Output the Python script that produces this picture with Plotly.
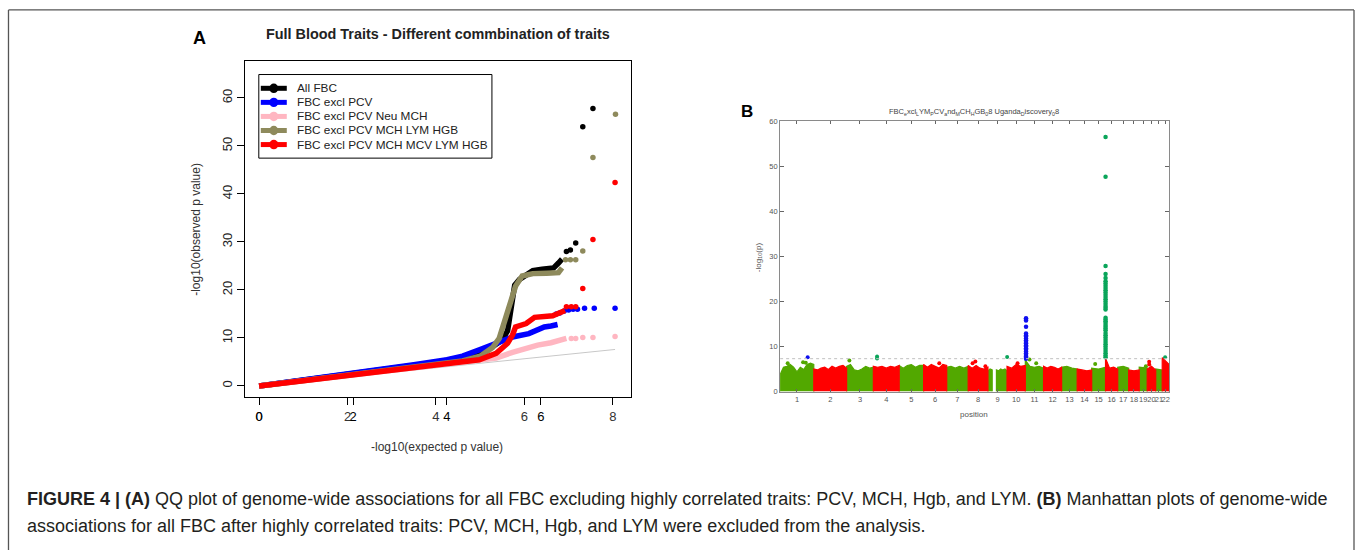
import plotly.graph_objects as go
from itertools import accumulate

W, H = 1357, 550


def X(px):
    return px / W


def Y(py):
    return 1 - py / H


# ---------------- Panel A : QQ plot data ----------------
qq_ref_x = [0, 8.05]
qq_ref_y = [0, 7.6]

black_x = [0, 1, 2, 3, 4, 4.6, 5.0, 5.3, 5.5, 5.62, 5.68, 5.73, 5.78, 5.89, 6.05, 6.19, 6.4, 6.66, 6.77, 6.85]
black_y = [0, 1.2, 2.4, 3.6, 4.9, 6.0, 7.0, 8.3, 9.6, 11.5, 15.0, 19.0, 21.0, 22.2, 23.2, 24.0, 24.3, 24.6, 25.6, 26.4]
black_tail_x = [6.95, 7.04, 7.16, 7.32, 7.55]
black_tail_y = [28.0, 28.3, 29.8, 54.0, 57.8]

blue_x = [0, 1, 2, 3, 3.5, 4.25, 4.6, 4.98, 5.36, 5.73, 6.1, 6.3, 6.45, 6.6, 6.75]
blue_y = [0, 1.2, 2.5, 3.8, 4.4, 5.45, 6.2, 7.5, 8.9, 10.2, 10.9, 11.6, 12.3, 12.5, 12.8]
blue_tail_x = [6.72, 6.8, 6.9, 7.0, 7.1, 7.2, 7.36, 7.58, 8.05]
blue_tail_y = [15.0, 15.2, 15.6, 15.8, 16.0, 16.0, 16.2, 16.2, 16.2]

pink_x = [0, 2, 4, 4.5, 5.0, 5.36, 5.73, 6.0, 6.3, 6.6, 6.8, 6.95]
pink_y = [0, 2.2, 4.3, 4.8, 5.3, 5.8, 7.0, 7.8, 8.5, 9.0, 9.5, 9.9]
pink_tail_x = [7.06, 7.16, 7.32, 7.55, 8.05]
pink_tail_y = [9.9, 9.9, 10.1, 10.1, 10.3]

olive_x = [0, 2, 4, 4.6, 5.0, 5.28, 5.43, 5.58, 5.73, 5.80, 5.95, 6.19, 6.5, 6.77, 6.85]
olive_y = [0, 2.2, 4.4, 5.2, 6.2, 8.0, 9.9, 14.0, 18.8, 20.8, 22.9, 23.4, 23.5, 23.6, 24.6]
olive_tail_x = [6.93, 7.04, 7.16, 7.32, 7.55, 8.06]
olive_tail_y = [26.3, 26.3, 26.3, 28.1, 47.6, 56.6]

red_x = [0, 1, 2, 3, 3.5, 4.23, 4.98, 5.36, 5.62, 5.73, 5.8, 6.04, 6.23, 6.64, 6.8, 6.92]
red_y = [0, 1.1, 2.2, 3.2, 3.8, 4.4, 5.45, 6.8, 8.9, 10.6, 12.3, 13.0, 14.3, 14.6, 15.2, 15.7]
red_tail_x = [6.95, 7.06, 7.16, 7.32, 7.55, 8.05]
red_tail_y = [16.5, 16.5, 16.5, 20.3, 30.5, 42.4]

qq_names = ["All FBC", "FBC excl PCV", "FBC excl PCV Neu MCH",
            "FBC excl PCV MCH LYM HGB", "FBC excl PCV MCH MCV LYM HGB"]
qq_colors = ["#000000", "#0000ff", "#ffb6c1", "#8e8a5c", "#ff0000"]
qq_x_ticks = [0, 2, 4, 6, 8]
qq_x_ticks_overlay = [0, 2, 4, 6]
qq_y_ticks = [0, 10, 20, 30, 40, 50, 60]

# ---------------- Panel B : Manhattan plot data ----------------
chrom_names = [str(i) for i in range(1, 23)]
chrom_len_mb = [249.25, 243.2, 198.0, 191.2, 180.9, 171.1, 159.1, 146.4, 141.2, 135.5, 135.0,
                133.9, 115.2, 107.3, 102.5, 90.4, 81.2, 78.1, 59.1, 63.0, 48.1, 51.3]
# upper edge of the dense band of SNPs along each chromosome (None = no SNPs)
band_tops = [
    [3.8, 5.4, 5.6, 6.0, 5.4, 4.4, 5.4, 4.9, 6.0, 6.3, 6.0],
    [5.0, 4.8, 5.2, 5.4, 4.9, 5.6, 5.2, 5.6, 5.8, 5.2],
    [5.6, 6.0, 4.8, 4.6, 5.0, 5.6, 5.2, 5.4],
    [5.6, 5.4, 5.6, 5.2, 5.6, 5.4, 5.8],
    [5.8, 5.2, 5.8, 6.0, 5.4, 5.8, 5.8],
    [6.0, 5.4, 6.0, 5.6, 5.2, 6.0, 5.8],
    [5.4, 5.6, 5.2, 5.6, 5.2, 5.6],
    [5.8, 5.2, 5.8, 5.2, 5.0, 5.4],
    [4.6, 5.0, 4.8, None, 4.8, 4.6, 5.0, 4.8, 5.0, 4.6],
    [5.6, 5.2, 6.0, 5.6, 5.8],
    [7.0, 5.6, 5.4, 5.6, 5.2],
    [5.6, 5.2, 5.6, 5.4, 5.0, 5.4],
    [5.4, 5.6, 5.2, 5.0],
    [5.0, 4.8, 4.6, 4.8],
    [5.2, 5.0, 5.4],
    [7.4, 5.2, 5.4, 5.0],
    [5.4, 5.6, 5.2],
    [4.8, 4.6, 4.8],
    [5.4, 5.2],
    [5.0, 5.6, 4.8],
    [5.0, 4.8],
    [7.5, 6.0],
]
band_colors = ["#52a800", "#ff0000"]

# isolated SNPs above the band
sig_chrom = [1, 1, 1, 1, 3, 4, 4, 6, 8, 8, 8, 10, 10, 11, 11, 15, 19, 20, 20, 22]
sig_pos_mb = [56, 170, 190, 204, 20.4, 27.4, 27.6, 116, 32.5, 53, 127.5, 1.0, 78, 31, 80.6, 26, 49, 14.5, 15.0, 21.6]
sig_logp = [6.3, 6.5, 6.4, 7.6, 6.9, 7.8, 7.35, 6.3, 6.3, 6.7, 5.6, 7.65, 6.3, 7.1, 6.3, 6.1, 5.6, 6.6, 6.0, 7.6]
sig_color = ["#52a800", "#52a800", "#52a800", "#1010f0", "#52a800", "#0aa55a", "#0aa55a", "#ff0000",
             "#ff0000", "#ff0000", "#ff0000", "#0aa55a", "#ff0000", "#52a800", "#52a800", "#52a800",
             "#52a800", "#ff0000", "#ff0000", "#0aa55a"]

# HBB locus peak (chr11) and HBA locus peak (chr16)
peak11_chrom, peak11_pos_mb = 11, 5.2
peak11_logp = [16.3, 16.1, 15.8, 14.4, 12.9, 12.5, 12.2, 11.8, 11.4, 11.0, 10.7, 10.3, 10.0,
               9.6, 9.3, 8.9, 8.5, 8.1, 7.8, 7.5, 7.3]
peak16_chrom, peak16_pos_mb = 16, 0.3
peak16_logp = [56.5, 47.7, 27.9, 26.1, 25.2, 24.5, 24.0, 23.5, 23.0, 22.5, 22.0, 21.5, 21.0,
               20.5, 20.0, 19.5, 19.0, 18.6, 18.2, 16.4, 16.0, 15.6, 15.2, 14.8, 14.4, 14.0,
               13.6, 13.0, 12.5, 12.0, 11.5, 11.0, 10.5, 10.0, 9.5, 9.0, 8.5, 8.0, 7.6]
genome_wide_line = 7.3
manh_y_ticks = [0, 10, 20, 30, 40, 50, 60]

FONT = "Liberation Sans, Arial, sans-serif"

fig = go.Figure()

# ---- Panel A traces
fig.add_trace(go.Scatter(x=qq_ref_x, y=qq_ref_y, mode="lines", line=dict(color="#c8c8c8", width=1),
                         xaxis="x", yaxis="y", hoverinfo="skip", showlegend=False))
qq_series = [(black_x, black_y, black_tail_x, black_tail_y),
             (blue_x, blue_y, blue_tail_x, blue_tail_y),
             (pink_x, pink_y, pink_tail_x, pink_tail_y),
             (olive_x, olive_y, olive_tail_x, olive_tail_y),
             (red_x, red_y, red_tail_x, red_tail_y)]
for (sx, sy, tx, ty), col, nm in zip(qq_series, qq_colors, qq_names):
    fig.add_trace(go.Scatter(x=sx, y=sy, mode="lines", line=dict(color=col, width=5.5),
                             xaxis="x", yaxis="y", name=nm, showlegend=False))
    fig.add_trace(go.Scatter(x=tx, y=ty, mode="markers", marker=dict(color=col, size=5.5),
                             xaxis="x", yaxis="y", name=nm, showlegend=False))
# invisible trace to activate the overlaid x axis
fig.add_trace(go.Scatter(x=[0], y=[0], mode="markers", marker=dict(opacity=0), xaxis="x3", yaxis="y",
                         hoverinfo="skip", showlegend=False))

# ---- Panel B traces
chrom_start = [0] + list(accumulate(chrom_len_mb))[:-1]
genome_len = sum(chrom_len_mb)
chrom_mid = [s + l / 2 for s, l in zip(chrom_start, chrom_len_mb)]

poly = {c: ([], []) for c in band_colors}
for i, (start, length, tops) in enumerate(zip(chrom_start, chrom_len_mb, band_tops)):
    col = band_colors[i % 2]
    xs, ys = poly[col]
    n = len(tops)
    open_poly = False
    last_x = start
    for k, h in enumerate(tops):
        xk = start + length * k / (n - 1)
        if h is None:
            if open_poly:
                xs += [last_x, None]
                ys += [0, None]
                open_poly = False
            continue
        if not open_poly:
            xs.append(xk)
            ys.append(0)
            open_poly = True
        xs.append(xk)
        ys.append(h)
        last_x = xk
    if open_poly:
        xs += [last_x, None]
        ys += [0, None]
for col in band_colors:
    xs, ys = poly[col]
    fig.add_trace(go.Scatter(x=xs, y=ys, mode="lines", fill="toself", fillcolor=col,
                             line=dict(color=col, width=1.2), xaxis="x2", yaxis="y2",
                             hoverinfo="skip", showlegend=False))

sig_x = [chrom_start[c - 1] + p for c, p in zip(sig_chrom, sig_pos_mb)]
fig.add_trace(go.Scatter(x=sig_x, y=sig_logp, mode="markers",
                         marker=dict(color=sig_color, size=4), xaxis="x2", yaxis="y2", showlegend=False))
fig.add_trace(go.Scatter(x=[chrom_start[peak11_chrom - 1] + peak11_pos_mb] * len(peak11_logp), y=peak11_logp,
                         mode="markers", marker=dict(color="#1010f0", size=4.5),
                         xaxis="x2", yaxis="y2", showlegend=False))
fig.add_trace(go.Scatter(x=[chrom_start[peak16_chrom - 1] + peak16_pos_mb] * len(peak16_logp), y=peak16_logp,
                         mode="markers", marker=dict(color="#0aa55a", size=4.5),
                         xaxis="x2", yaxis="y2", showlegend=False))

# ---------------- layout ----------------
xa_px = (245.0, 631.0)
x0_px, x_unit = 259.3, 44.25
x0b_unit = 47.0
ya_px = (400.0, 58.3)
y0_px, y_unit = 388.3, 4.88

layout = dict(
    width=W, height=H, margin=dict(l=0, r=0, t=0, b=0),
    paper_bgcolor="white", plot_bgcolor="white",
    font=dict(family=FONT, color="#000"),
    showlegend=False,
    xaxis=dict(domain=[X(xa_px[0]), X(xa_px[1])],
               range=[(xa_px[0] - x0_px) / x_unit, (xa_px[1] - x0_px) / x_unit],
               anchor="y", showline=True, mirror=True, linecolor="#000", linewidth=1,
               ticks="outside", ticklen=7, tickcolor="#000", tickvals=qq_x_ticks,
               tickfont=dict(size=13, color="#333"), showgrid=False, zeroline=False),
    xaxis3=dict(overlaying="x", anchor="y", side="bottom",
                range=[(xa_px[0] - x0_px) / x0b_unit, (xa_px[1] - x0_px) / x0b_unit],
                showline=False, ticks="outside", ticklen=7, tickcolor="#000", tickvals=qq_x_ticks_overlay,
                tickfont=dict(size=13, color="#000"), showgrid=False, zeroline=False),
    yaxis=dict(domain=[Y(ya_px[0]), Y(ya_px[1])],
               range=[(y0_px - ya_px[0]) / y_unit, (y0_px - ya_px[1]) / y_unit],
               anchor="x", showline=True, mirror=True, linecolor="#000", linewidth=1,
               ticks="outside", ticklen=7, tickcolor="#000", tickvals=qq_y_ticks, tickangle=-90,
               tickfont=dict(size=13, color="#222"), showgrid=False, zeroline=False),
    xaxis2=dict(domain=[X(780.7), X(1170)], range=[0, genome_len], anchor="y2",
                showline=True, mirror="allticks", linecolor="#8a8a8a", linewidth=1,
                ticks="inside", ticklen=3, tickcolor="#666", tickvals=chrom_mid, ticktext=chrom_names,
                tickangle=0, tickfont=dict(size=7.5, color="#555"), showgrid=False, zeroline=False),
    yaxis2=dict(domain=[Y(394), Y(119.3)], range=[0, 60], anchor="x2",
                showline=True, mirror="allticks", linecolor="#8a8a8a", linewidth=1,
                ticks="inside", ticklen=4, tickcolor="#666", tickvals=manh_y_ticks,
                tickfont=dict(size=7.5, color="#555"), showgrid=False, zeroline=False),
)
fig.update_layout(**layout)

shapes = []
# outer figure frame
for x0, y0, x1, y1 in [(8.5, 6, 8.5, 560), (8.5, 6, 1355, 6), (1355, 6, 1355, 560)]:
    shapes.append(dict(type="line", xref="paper", yref="paper", x0=X(x0), y0=Y(y0), x1=X(x1), y1=Y(y1),
                       line=dict(color="#555", width=1.3)))
# genome-wide significance line
shapes.append(dict(type="line", xref="x2", yref="y2", x0=0, x1=genome_len, y0=genome_wide_line,
                   y1=genome_wide_line, line=dict(color="#c0c0c0", width=1, dash="dot")))
# QQ legend box
lg_l, lg_t, lg_r, lg_b = 259.0, 71.7, 492.3, 156.7
shapes.append(dict(type="rect", xref="paper", yref="paper", x0=X(lg_l), y0=Y(lg_b), x1=X(lg_r), y1=Y(lg_t),
                   line=dict(color="#000", width=1), fillcolor="white"))
ann = []
row_y = [85.7, 100.0, 114.3, 128.6, 142.9]
for yy, col, nm in zip(row_y, qq_colors, qq_names):
    shapes.append(dict(type="line", xref="paper", yref="paper", x0=X(261), x1=X(287), y0=Y(yy), y1=Y(yy),
                       line=dict(color=col, width=5)))
    shapes.append(dict(type="circle", xref="paper", yref="paper", x0=X(269.5), x1=X(278.5),
                       y0=Y(yy + 4.8), y1=Y(yy - 4.8), line=dict(color=col, width=0), fillcolor=col))
    ann.append(dict(x=X(295), y=Y(yy), xref="paper", yref="paper", text=nm, showarrow=False,
                    xanchor="left", yanchor="middle", font=dict(size=11.8, color="#222", family=FONT)))

fig.update_layout(shapes=shapes)

# titles & labels
ann += [
    dict(x=X(200), y=Y(34.5), text="<b>A</b>", font=dict(size=18, color="#000")),
    dict(x=X(438), y=Y(30.5), text="<b>Full Blood Traits - Different commbination of traits</b>",
         font=dict(size=14.4, color="#222")),
    dict(x=X(437), y=Y(450.7), text="-log10(expected p value)", font=dict(size=12, color="#333")),
    dict(x=X(196.7), y=Y(229), text="-log10(observed p value)", textangle=-90, font=dict(size=12, color="#333")),
    dict(x=X(748), y=Y(109), text="<b>B</b>", font=dict(size=17, color="#000")),
    dict(x=X(975), y=Y(110),
         text="FBC<sub>e</sub>xcl<sub>L</sub>YM<sub>P</sub>CV<sub>a</sub>nd<sub>M</sub>CH<sub>H</sub>GB<sub>0</sub>8 "
              "Uganda<sub>D</sub>iscovery<sub>0</sub>8",
         font=dict(size=7.5, color="#444")),
    dict(x=X(975), y=Y(417.5), text="position", font=dict(size=8, color="#555")),
    dict(x=X(759), y=Y(257), text="-log<sub>10</sub>(p)", textangle=-90, font=dict(size=8, color="#555")),
    dict(x=X(25), y=Y(503), xanchor="left",
         text="<b>FIGURE 4 | (A)</b> QQ plot of genome-wide associations for all FBC excluding highly correlated "
              "traits: PCV, MCH, Hgb, and LYM. <b>(B)</b> Manhattan plots of genome-wide",
         font=dict(size=18, color="#231f20")),
    dict(x=X(25), y=Y(531), xanchor="left",
         text="associations for all FBC after highly correlated traits: PCV, MCH, Hgb, and LYM were excluded "
              "from the analysis.",
         font=dict(size=18, color="#231f20")),
]
for a in ann:
    a.setdefault("xref", "paper")
    a.setdefault("yref", "paper")
    a.setdefault("showarrow", False)
    a.setdefault("xanchor", "center")
    a.setdefault("yanchor", "middle")
    a["font"].setdefault("family", FONT)
fig.update_layout(annotations=ann)

fig.write_html("out.html", config={"displayModeBar": False},
               post_script="document.body.style.margin='0';document.body.style.overflow='hidden';")
